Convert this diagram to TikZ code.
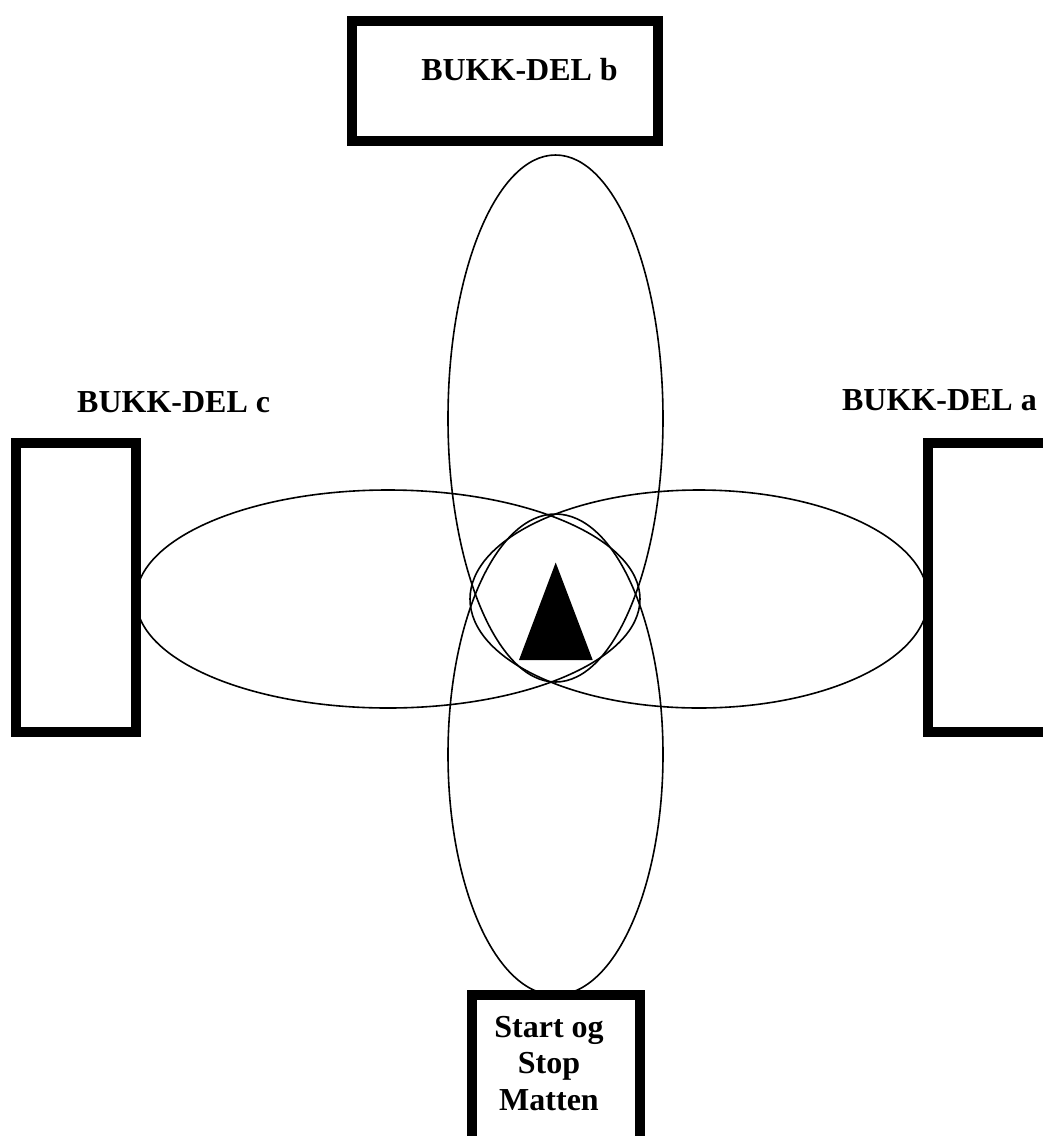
\documentclass[tikz,border=0pt]{standalone}
\usepackage{fontspec}
\setmainfont{Liberation Serif}
\usetikzlibrary{shapes.geometric}
\begin{document}
\begin{tikzpicture}[x=1pt,y=-1pt,
  loop/.style={draw=black,line width=1.6pt,ellipse,inner sep=0pt,outer sep=0pt},
  part/.style={draw=black,fill=white,line width=10pt,rectangle,inner sep=0pt,outer sep=0pt},
  lbl/.style={font=\bfseries\fontsize{32}{36.5}\selectfont,inner sep=0pt}]
\useasboundingbox (0,0) rectangle (1043,1136);
\clip (0,0) rectangle (1043,1136);
% four loops round the centre
\node[loop,minimum width=215pt,minimum height=527pt] (lb) at (555.5,418.5) {};
\node[loop,minimum width=215pt,minimum height=481pt] (ls) at (555.5,754.5) {};
\node[loop,minimum width=504pt,minimum height=218pt] (lc) at (388,599) {};
\node[loop,minimum width=458pt,minimum height=218pt] (la) at (699,599) {};
% centre marker
\fill (555.7,562.5) -- (592.7,660) -- (519,660) -- cycle;
% parts
\node[part,minimum width=306.5pt,minimum height=120pt] (pb) at (504.75,80.5) {};
\node[part,minimum width=120pt,minimum height=288.5pt] (pc) at (76,587.25) {};
\node[part,minimum width=132pt,minimum height=288.5pt] (pa) at (994,587.25) {};
\node[part,minimum width=168pt,minimum height=160pt] (ps) at (556,1075) {};
% labels
\node[lbl,anchor=base] (tb) at (519.5,80) {BUKK-DEL b};
\node[lbl,anchor=base west] (tc) at (77,412) {BUKK-DEL c};
\node[lbl,anchor=base east] (ta) at (1037,410) {BUKK-DEL a};
\node[lbl,anchor=base,align=center] (ts) at (549,1110) {Start og\\Stop\\Matten};
\end{tikzpicture}
\end{document}
